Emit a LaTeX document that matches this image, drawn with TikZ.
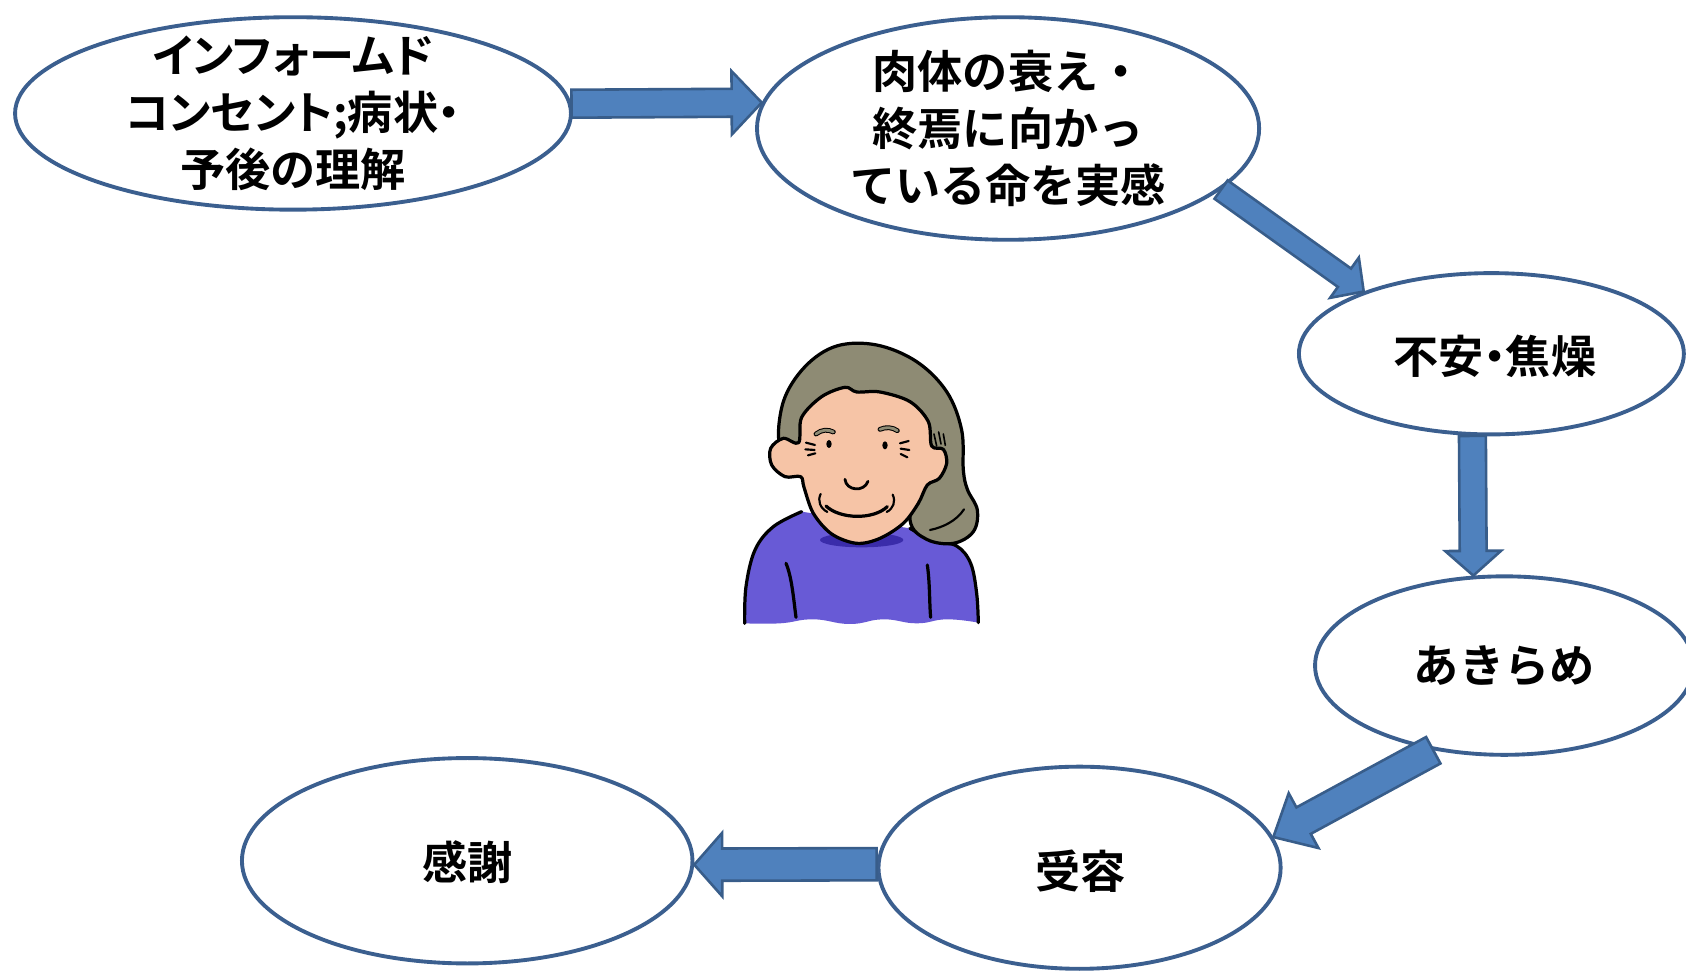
\documentclass[tikz,border=0pt]{standalone}
\usepackage{fontspec}
\setmainfont{Noto Sans CJK JP}[BoldFont={Noto Sans CJK JP Bold}]
\usetikzlibrary{shapes.geometric,calc}

\definecolor{ellborder}{RGB}{59,95,143}
\definecolor{arrfill}{RGB}{79,129,189}
\definecolor{arrborder}{RGB}{56,93,138}
\definecolor{hair}{RGB}{142,139,116}
\definecolor{skin}{RGB}{246,196,166}
\definecolor{sweater}{RGB}{104,90,214}
\definecolor{sweaterdark}{RGB}{58,44,170}

\tikzset{
  stage/.style={ellipse, draw=ellborder, line width=3.6pt, fill=white, inner sep=0pt},
  stagetext/.style={font=\fontsize{42}{53}\selectfont\bfseries, align=center, text=black, inner sep=0pt},
  flow/.style={fill=arrfill, draw=arrborder, line width=2.4pt, line join=miter},
  ink/.style={draw=black, line width=3pt, line join=round, line cap=round},
  fineink/.style={draw=black, line width=2pt, line cap=round}
}

% proportional spacing for kana and the middle dot
\newcommand{\prop}{\addfontfeature{RawFeature=+palt}}

% block arrow: tail, tip, half shaft width, half head width, head length
\newcommand{\blockarrow}[5]{%
  \coordinate (hb) at ($(#2)!#5!(#1)$);
  \draw[flow] ($(#1)!#3!90:(#2)$) -- ($(hb)!#3!90:(#2)$) -- ($(hb)!#4!90:(#2)$)
    -- (#2) -- ($(hb)!#4!-90:(#2)$) -- ($(hb)!#3!-90:(#2)$) -- ($(#1)!#3!-90:(#2)$) -- cycle;
}

\begin{document}
\begin{tikzpicture}[x=1pt, y=-1pt]
  \clip (0,0) rectangle (1568,904);
  \fill[white] (0,0) rectangle (1568,904);

  % stages
  \node[stage, minimum width=517pt, minimum height=179pt] (e1) at (272.5,105.5) {};
  \node[stage, minimum width=467pt, minimum height=207pt] (e2) at (937.5,119.5) {};
  \node[stage, minimum width=358pt, minimum height=150pt] (e3) at (1387,329) {};
  \node[stage, minimum width=352pt, minimum height=166pt] (e4) at (1399,619) {};
  \node[stage, minimum width=374pt, minimum height=188pt] (e5) at (1004,807) {};
  \node[stage, minimum width=419pt, minimum height=191pt] (e6) at (434.5,800.5) {};

  \node[stagetext] (t1) at (e1) {\prop インフォームド\\
    \prop コンセント;病状・\\予後の理解};
  \node[stagetext] (t2) at (e2) {肉体の衰え・\\終焉に向かっ\\ている命を実感};
  \node[stagetext] (t3) at ($(e3)+(3,2)$) {\prop 不安・焦燥};
  \node[stagetext] (t4) at (e4) {あきらめ};
  \node[stagetext] (t5) at ($(e5)+(1,3)$) {受容};
  \node[stagetext] (t6) at ($(e6)+(0,1.5)$) {感謝};

  % flow arrows
  \blockarrow{e1.2}{e2.174}{13pt}{29.5pt}{28pt}
  \blockarrow{e2.344}{e3.154}{10.5pt}{23pt}{22pt}
  \blockarrow{e3.257}{e4.109}{12.5pt}{26pt}{23pt}
  \blockarrow{e4.230}{e5.9}{14pt}{29pt}{32pt}
  \blockarrow{e5.179}{e6.359}{15pt}{29.5pt}{26pt}

  % elderly woman in the centre
  \begin{scope}[shift={(678.9,306.9)}, scale=0.31]
    % sweater
    \fill[sweater] plot[smooth, tension=0.6] coordinates {(44,880) (48,770) (75,660) (130,590) (215,545)}
      -- (540,595) -- plot[smooth, tension=0.6] coordinates {(540,595) (610,632) (680,648) (722,700) (740,790) (745,878)}
      -- plot[smooth, tension=0.8] coordinates {(745,878) (650,868) (560,880) (460,868) (360,882) (250,868) (150,880) (44,880)} -- cycle;
    \fill[sweaterdark] (395,630) ellipse (125 and 22);
    \draw[ink] plot[smooth, tension=0.6] coordinates {(44,880) (48,770) (75,660) (130,590) (215,545)};
    \draw[ink] plot[smooth, tension=0.6] coordinates {(540,595) (610,632) (680,648) (722,700) (740,790) (745,878)};
    \draw[ink] (168,700) .. controls (185,740) and (190,800) .. (198,862);
    \draw[ink] (592,705) .. controls (600,760) and (598,820) .. (602,862);
    % hair with bun
    \filldraw[fill=hair, ink] plot[smooth cycle, tension=0.6] coordinates {(150,345) (160,215) (225,110)
      (320,48) (440,45) (560,95) (650,185) (695,300) (700,420) (712,478) (742,540) (730,605) (670,640)
      (590,628) (540,570) (560,420) (400,300) (220,340)};
    \draw[ink, line width=2pt] (600,600) .. controls (640,592) and (680,572) .. (702,538);
    \draw[fineink, line width=1.5pt] (612,312) -- (620,348) (626,306) -- (633,342) (640,312) -- (646,346);
    % face and ears
    \filldraw[fill=skin, ink] plot[smooth cycle, tension=0.55] coordinates {(215,262) (275,200) (345,172)
      (380,186) (450,186) (540,215) (595,275) (605,348) (640,358) (650,400) (628,445) (592,465)
      (565,520) (520,580) (450,625) (380,640) (305,612) (250,550) (222,472) (212,440) (165,440)
      (125,405) (122,355) (160,325) (206,338)};
    % eyebrows
    \draw[line width=4.5pt, black, line cap=round] (258,312) .. controls (275,298) and (295,298) .. (310,306);
    \draw[line width=2.6pt, hair, line cap=round] (258,312) .. controls (275,298) and (295,298) .. (310,306);
    \draw[line width=4.5pt, black, line cap=round] (450,298) .. controls (468,290) and (488,292) .. (502,302);
    \draw[line width=2.6pt, hair, line cap=round] (450,298) .. controls (468,290) and (488,292) .. (502,302);
    % eyes
    \fill[black] (297,342) ellipse (8 and 12);
    \fill[black] (465,346) ellipse (8 and 12);
    % wrinkles at the eyes
    \draw[fineink] (228,338) -- (255,345) (226,358) -- (254,360) (234,376) -- (256,370);
    \draw[fineink] (510,340) -- (536,333) (512,356) -- (538,360) (512,372) -- (532,382);
    % nose and mouth
    \draw[ink, line width=2.6pt] (345,448) .. controls (348,482) and (402,488) .. (414,454);
    \draw[ink] (288,528) .. controls (330,568) and (430,570) .. (472,530);
    \draw[fineink] (272,492) .. controls (262,512) and (270,534) .. (292,546);
    \draw[fineink] (488,494) .. controls (498,514) and (490,536) .. (470,546);
  \end{scope}
\end{tikzpicture}
\end{document}
